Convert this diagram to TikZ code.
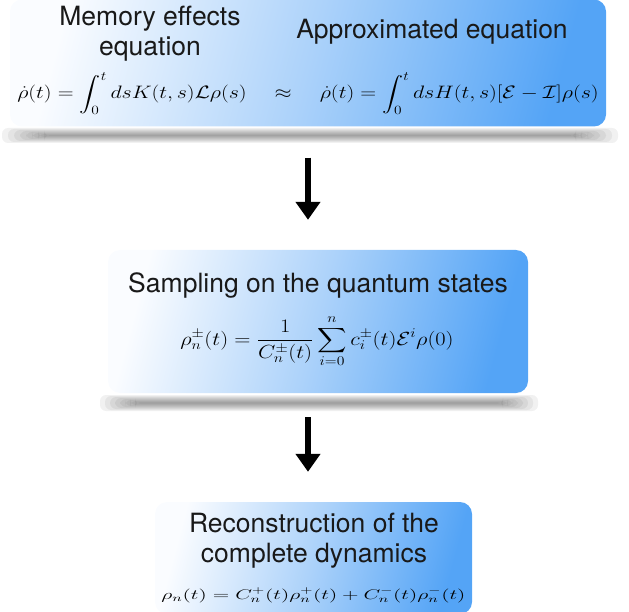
\documentclass[tikz,border=0pt]{standalone}
\usepackage{fix-cm}
\usepackage{amsmath}
\usepackage{graphicx}
\usepackage{fontspec}
\usepackage{tikz}
\usetikzlibrary{arrows.meta,positioning}
\newfontfamily\helv{TeX Gyre Heros}
\definecolor{boxblue}{RGB}{84,164,246}
\definecolor{boxmid}{RGB}{172,210,250}
\definecolor{boxwhite}{RGB}{250,252,255}

\begin{document}
\begin{tikzpicture}[x=1pt,y=-1pt]
\tikzstyle{every node}=[inner sep=0pt]
\tikzstyle{stage}=[rounded corners=12pt, left color=boxwhite, right color=boxblue, middle color=boxmid, shading angle=75]
\tikzstyle{shadowband}=[black, opacity=0.055, rounded corners=6pt]
\tikzstyle{title}=[font=\helv\fontsize{26.5}{30}\selectfont, align=center, text=black!90]
\tikzstyle{flow}=[line width=6pt, -{Triangle[width=24pt,length=18pt]}]

\useasboundingbox (0,0) rectangle (629,612);

% Shadows under the boxes
\foreach \i in {0,...,7} {
    \fill [shadowband] (2+\i*6,128+\i) rectangle (618-\i*6,143-\i);
    \fill [shadowband] (100+\i*5,395+\i) rectangle (538-\i*5,411-\i);
}

% Draw boxes
\node [stage, minimum width=596pt, minimum height=127pt] (memory) at (308,63) {};
\node [stage, minimum width=420pt, minimum height=143pt] (sampling) at (318,321.5) {};
\node [stage, minimum width=317pt, minimum height=112pt] (recon) at (313.5,558) {};

% Add texts
\node [title] (memtext) at (150,34) {Memory effects\\equation};
\node [title, anchor=base] (approxtext) at (432,39) {Approximated equation};
\node [anchor=base] (memeq) at (308,99) {\scalebox{1.22}[1]{\fontsize{18}{22}\selectfont
  $\dot{\rho}(t)=\displaystyle\int_0^t dsK(t,s)\mathcal{L}\rho(s)\quad\approx\quad
   \dot{\rho}(t)=\displaystyle\int_0^t dsH(t,s)[\mathcal{E}-\mathcal{I}]\rho(s)$}};

\node [title, anchor=base] (samptext) at (318,293) {Sampling on the quantum states};
\node [anchor=base] (sampeq) at (317,345) {\scalebox{1.18}[1]{\fontsize{19}{23}\selectfont
  $\displaystyle\rho_n^{\pm}(t)=\frac{1}{C_n^{\pm}(t)}\sum_{i=0}^{n}c_i^{\pm}(t)\mathcal{E}^i\rho(0)$}};

\node [title] (recontext) at (314,541) {Reconstruction of the\\complete dynamics};
\node [anchor=base] (reconeq) at (313.5,599) {\scalebox{1.55}[1]{\fontsize{14}{17}\selectfont
  $\rho_n(t)=C_n^{+}(t)\rho_n^{+}(t)+C_n^{-}(t)\rho_n^{-}(t)$}};

% Draw arrows
\draw [flow, shorten <=31pt, shorten >=30pt] (memory.south) -- (memory.south |- sampling.north);
\draw [flow, shorten <=24pt, shorten >=30pt] (memory.south |- sampling.south) -- (memory.south |- recon.north);

\end{tikzpicture}
\end{document}
